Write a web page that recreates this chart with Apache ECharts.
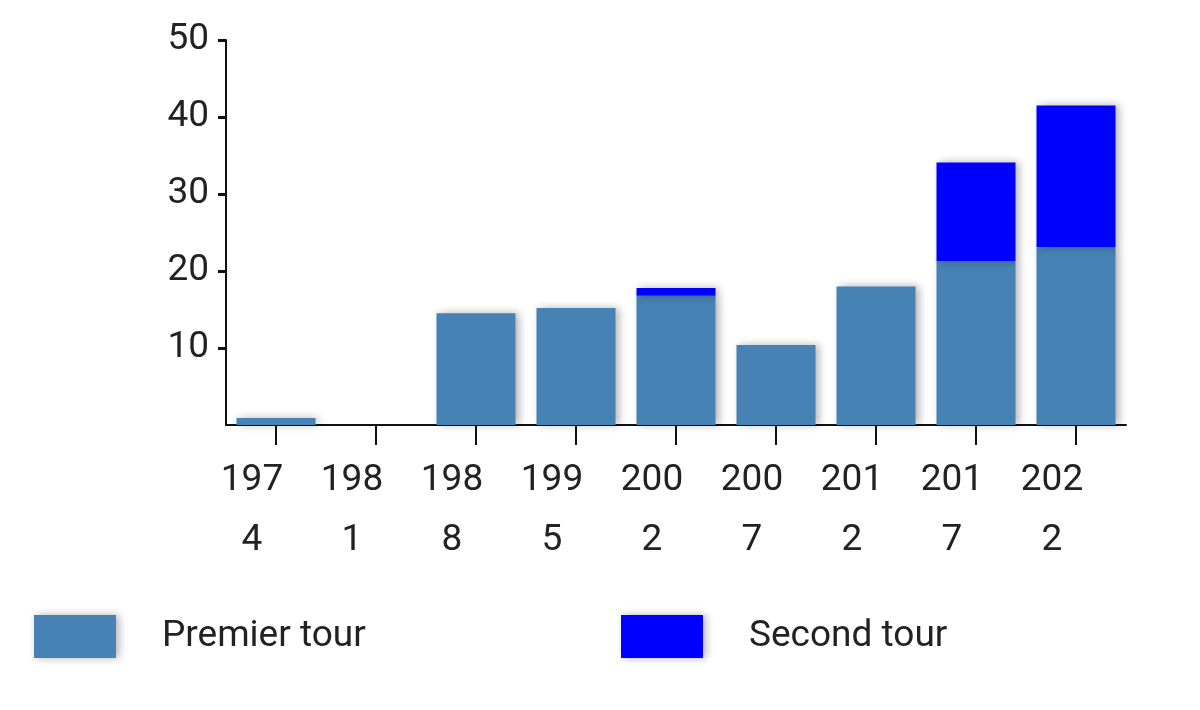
<!DOCTYPE html>
<html style="height: 100%">
<head>
    <meta charset="utf-8">
</head>
<body style="height: 100%; margin: 0; background: #fff">
    <div id="container" style="width: 1200px; height: 710px"></div>
    <script type="text/javascript" src="https://cdn.jsdelivr.net/npm/echarts@6/dist/echarts.min.js"></script>
    <script type="text/javascript">
        var years = ['1974', '1981', '1988', '1995', '2002', '2007', '2012', '2017', '2022'];
        var premierTour = [0.9, 0, 14.5, 15.2, 16.8, 10.4, 18.0, 21.3, 23.1];
        var secondTour = [0, 0, 0, 0, 1.0, 0, 0, 12.8, 18.4];
        var yTicks = [10, 20, 30, 40, 50];

        var FONT = 'Roboto';
        var TEXT = '#222';
        var shadow = {
            shadowBlur: 8,
            shadowColor: 'rgba(0, 0, 0, 0.3)',
            shadowOffsetX: 3,
            shadowOffsetY: 0
        };

        var myChart = echarts.init(document.getElementById('container'));

        function legendOf(name, x) {
            return {
                data: [name],
                left: x, top: 615,
                padding: 0,
                itemWidth: 82, itemHeight: 43,
                icon: 'rect',
                textStyle: { fontFamily: FONT, fontSize: 37, color: TEXT, padding: [6, 0, 0, 41] },
                itemStyle: shadow
            };
        }

        var option = {
            animation: false,
            grid: { left: 226, top: 40, width: 900, bottom: 285 },
            legend: [legendOf('Premier tour', 34), legendOf('Second tour', 621)],
            xAxis: {
                type: 'category',
                data: years,
                axisLine: { lineStyle: { color: '#111', width: 2 } },
                axisTick: { show: true, inside: false, alignWithLabel: true, length: 20, lineStyle: { color: '#111', width: 2 } },
                axisLabel: {
                    interval: 0,
                    margin: 26,
                    fontFamily: FONT,
                    fontSize: 37,
                    lineHeight: 60,
                    color: TEXT,
                    padding: [0, 48, 0, 0],
                    formatter: function (v) { return v.slice(0, 3) + '\n' + v.slice(3); }
                }
            },
            yAxis: {
                type: 'value',
                min: 0,
                max: 50,
                interval: 10,
                splitLine: { show: false },
                axisLine: { show: true, lineStyle: { color: '#111', width: 2 } },
                axisTick: { show: true, length: 8, customValues: yTicks, lineStyle: { color: '#111', width: 3 } },
                axisLabel: {
                    margin: 17,
                    fontFamily: FONT,
                    fontSize: 37,
                    color: TEXT,
                    customValues: yTicks
                }
            },
            series: [
                {
                    name: 'Premier tour',
                    type: 'bar',
                    stack: 'total',
                    barWidth: '79%',
                    data: premierTour,
                    itemStyle: Object.assign({ color: '#4682b4' }, shadow)
                },
                {
                    name: 'Second tour',
                    type: 'bar',
                    stack: 'total',
                    barWidth: '79%',
                    data: secondTour,
                    itemStyle: Object.assign({ color: '#0000ff' }, shadow)
                }
            ]
        };

        myChart.setOption(option, true);
    </script>
</body>
</html>
